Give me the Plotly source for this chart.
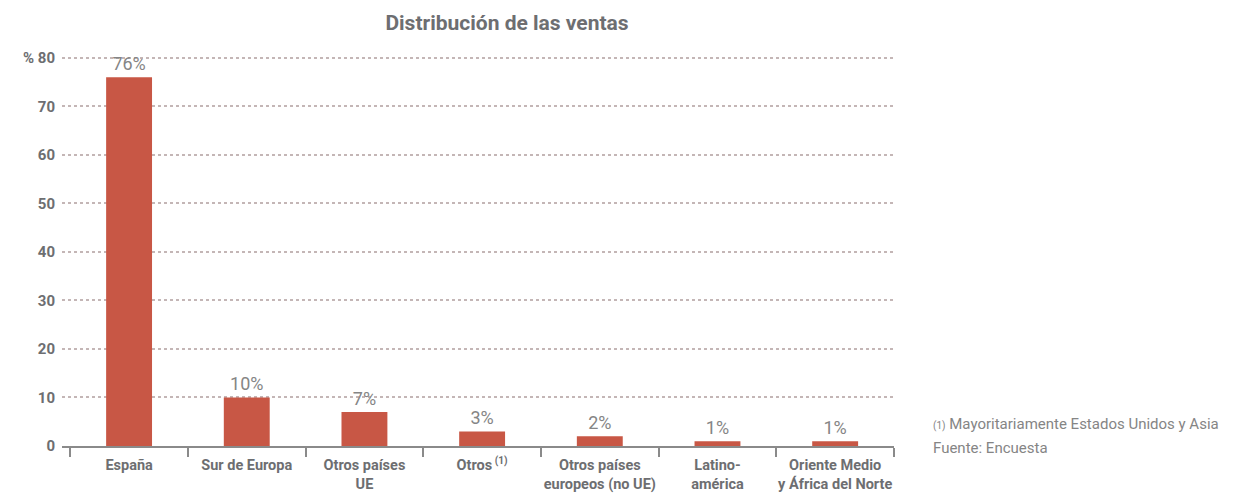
import plotly.graph_objects as go

categories = ["España", "Sur de Europa", "Otros países<br>UE", "Otros<sup> (1)</sup>",
              "Otros países<br>europeos (no UE)", "Latino-<br>américa", "Oriente Medio<br>y África del Norte"]
values = [76, 10, 7, 3, 2, 1, 1]
y_ticks = [0, 10, 20, 30, 40, 50, 60, 70, 80]
y_tick_labels = ["0", "10", "20", "30", "40", "50", "60", "70", "% 80"]

gray = "#6d6e71"
# page body has an 8px margin; figure is sized/positioned to compensate
W, H = 1229, 487
fig = go.Figure()
fig.add_trace(go.Bar(
    x=categories, y=values,
    marker=dict(color="#c85745", line=dict(width=0)),
    text=[f"{v}%" for v in values], textposition="outside",
    textfont=dict(family="Roboto", size=18, color="#858585"),
    cliponaxis=False, width=0.39,
))
fig.update_layout(
    width=W, height=H,
    margin=dict(l=54, r=343, t=45, b=49),
    plot_bgcolor="white", paper_bgcolor="white",
    showlegend=False,
    title=dict(text="<b>Distribución de las ventas</b>", x=499/W, xanchor="center",
               y=1-15/H, yanchor="middle",
               font=dict(family="Roboto", size=21, color=gray)),
    xaxis=dict(range=[-0.57, 6.5], tickson="boundaries", ticks="outside", ticklen=9,
               tickcolor="#8a8a8a", tickwidth=2, showline=True, linecolor="#8a8a8a", linewidth=2,
               showgrid=False, automargin=False, ticklabelstandoff=5, tickangle=0,
               tickfont=dict(family="Roboto", size=14.5, color=gray, weight="bold")),
    yaxis=dict(range=[0, 81], tickvals=y_ticks, ticktext=y_tick_labels, showgrid=True,
               gridcolor="#c4b6b6", griddash="dot", gridwidth=1.5, zeroline=False,
               automargin=False, ticks="", ticklabelstandoff=6,
               tickfont=dict(family="Roboto", size=15, color=gray, weight="bold")),
    annotations=[
        dict(text="<span style='font-size:10px'>(1)</span> Mayoritariamente Estados Unidos y Asia",
             xref="paper", yref="paper", x=(931-62)/832, y=(446-424)/393, xanchor="left", yanchor="middle",
             showarrow=False, font=dict(family="Roboto", size=15, color="#858585")),
        dict(text="Fuente: Encuesta",
             xref="paper", yref="paper", x=(931-62)/832, y=(446-448)/393, xanchor="left", yanchor="middle",
             showarrow=False, font=dict(family="Roboto", size=15, color="#858585")),
    ],
)
fig.write_html("out.html")
